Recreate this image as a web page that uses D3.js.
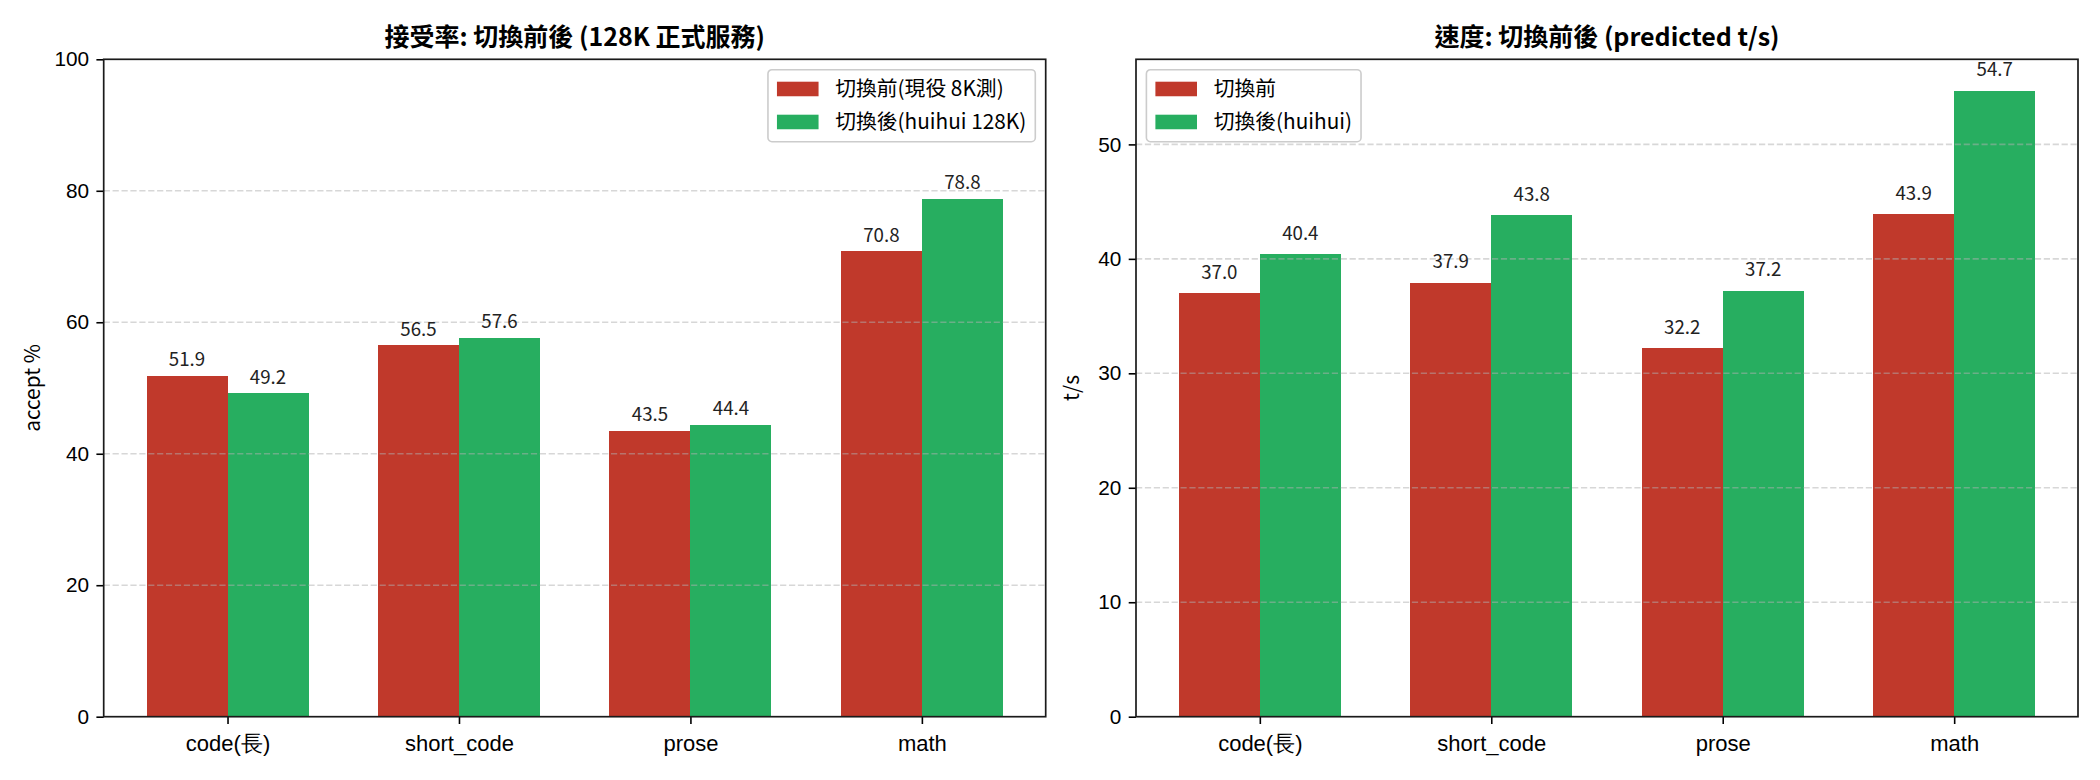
<!DOCTYPE html>
<html>
<head>
<meta charset="utf-8">
<script src="https://cdn.jsdelivr.net/npm/d3@7"></script>
<style>
  body { margin: 0; background: white; }
  svg { font-family: "Noto Sans CJK TC", "Noto Sans", sans-serif; }
  .title { font-size: 25px; font-weight: bold; }
  .tick text { font-size: 20.8px; fill: black; }
  .xaxis .tick text { font-size: 22px; }
  .valor { font-size: 18.7px; fill: #222; }
  .label { font-size: 20.8px; }
  .leyenda text { font-size: 20.8px; }
  .barra { shape-rendering: crispEdges; }
</style>
</head>
<body>
<svg id="plot"></svg>
<script>
const categorias = ["code(長)", "short_code", "prose", "math"];

// aceptación (%)
const aceptAntes = [51.9, 56.5, 43.5, 70.8];
const aceptDespues = [49.2, 57.6, 44.4, 78.8];

// velocidad (t/s)
const velAntes = [37.0, 37.9, 32.2, 43.9];
const velDespues = [40.4, 43.8, 37.2, 54.7];

const yTicksAcept = [0, 20, 40, 60, 80, 100];
const yTicksVel = [0, 10, 20, 30, 40, 50];

const rojo = "#c0392b";
const verde = "#27ae60";

const width = 2100;
const height = 780;
const panelW = 942;
const panelH = 657.4;
const margenArriba = 59.3;
const lefts = [103.7, 1136];
const anchoBarra = 0.35;

const plot = d3.select("#plot")
  .attr("width", width)
  .attr("height", height);

render(0, {
  titulo: "接受率: 切換前後 (128K 正式服務)",
  ylabel: "accept %",
  antes: aceptAntes,
  despues: aceptDespues,
  ymax: 100,
  ticks: yTicksAcept,
  nombres: ["切換前(現役 8K測)", "切換後(huihui 128K)"],
  leyendaDerecha: true
});

render(1, {
  titulo: "速度: 切換前後 (predicted t/s)",
  ylabel: "t/s",
  antes: velAntes,
  despues: velDespues,
  ymax: d3.max(velAntes.concat(velDespues)) * 1.05,
  ticks: yTicksVel,
  nombres: ["切換前", "切換後(huihui)"],
  leyendaDerecha: false
});

function render(i, cfg) {
  const x0 = lefts[i];
  const g = plot.append("g").attr("transform", "translate(" + x0 + "," + margenArriba + ")");

  // margen de matplotlib: 5% del rango de datos
  const lo = -anchoBarra, hi = categorias.length - 1 + anchoBarra;
  const m = (hi - lo) * 0.05;
  const xScale = d3.scaleLinear().domain([lo - m, hi + m]).range([0, panelW]);
  const yScale = d3.scaleLinear().domain([0, cfg.ymax]).range([panelH, 0]);

  const series = [
    {valores: cfg.antes, color: rojo, desp: -anchoBarra / 2},
    {valores: cfg.despues, color: verde, desp: anchoBarra / 2}
  ];

  series.forEach((s) => {
    g.selectAll(null)
      .data(s.valores)
      .enter()
      .append("rect")
        .attr("class", "barra")
        .attr("x", (d, k) => xScale(k + s.desp - anchoBarra / 2))
        .attr("width", (d, k) => xScale(k + s.desp + anchoBarra / 2) - xScale(k + s.desp - anchoBarra / 2))
        .attr("y", (d) => yScale(d))
        .attr("height", (d) => panelH - yScale(d))
        .attr("fill", s.color);
  });

  // grilla (encima de las barras, como en matplotlib)
  g.selectAll("line.grid")
    .data(cfg.ticks.filter((t) => t > 0 && t < cfg.ymax))
    .enter()
    .append("line")
      .attr("class", "grid")
      .attr("x1", 0)
      .attr("x2", panelW)
      .attr("y1", (d) => yScale(d))
      .attr("y2", (d) => yScale(d))
      .attr("stroke", "#b0b0b0")
      .attr("stroke-opacity", 0.5)
      .attr("stroke-width", 1.6)
      .attr("stroke-dasharray", "6.2,2.7");

  // etiquetas de valores
  series.forEach((s) => {
    g.selectAll(null)
      .data(s.valores)
      .enter()
      .append("text")
        .attr("class", "valor")
        .attr("x", (d, k) => xScale(k + s.desp))
        .attr("y", (d) => yScale(d + 1) - 3)
        .attr("text-anchor", "middle")
        .text((d) => d.toFixed(1));
  });

  // ejes
  const ejeX = g.append("g")
    .attr("class", "xaxis")
    .attr("transform", "translate(0," + panelH + ")")
    .call(d3.axisBottom(xScale)
      .tickValues(d3.range(categorias.length))
      .tickFormat((d) => categorias[d])
      .tickSize(7.3)
      .tickPadding(7.3)
      .tickSizeOuter(0));
  ejeX.select(".domain").remove();
  ejeX.selectAll(".tick line").attr("stroke", "black").attr("stroke-width", 1.6);
  ejeX.selectAll(".tick text").attr("dy", "0.9em");

  const ejeY = g.append("g")
    .call(d3.axisLeft(yScale)
      .tickValues(cfg.ticks)
      .tickSize(7.3)
      .tickPadding(7.3)
      .tickSizeOuter(0));
  ejeY.select(".domain").remove();
  ejeY.selectAll(".tick line").attr("stroke", "black").attr("stroke-width", 1.6);

  // marco
  g.append("rect")
    .attr("width", panelW)
    .attr("height", panelH)
    .attr("fill", "none")
    .attr("stroke", "#1a1a1a")
    .attr("stroke-width", 1.7);

  // y label
  g.append("text")
    .attr("class", "label")
    .attr("transform", "rotate(-90)")
    .attr("x", -panelH / 2)
    .attr("y", i === 0 ? 40 - x0 : 1079 - x0)
    .attr("text-anchor", "middle")
    .text(cfg.ylabel);

  // título
  g.append("text")
    .attr("class", "title")
    .attr("x", panelW / 2)
    .attr("y", -13)
    .attr("text-anchor", "middle")
    .text(cfg.titulo);

  leyenda(g, cfg);
}

function leyenda(g, cfg) {
  const fs = 20.8;
  const ley = g.append("g").attr("class", "leyenda");
  const caja = ley.append("rect")
    .attr("fill", "white")
    .attr("fill-opacity", 0.8)
    .attr("stroke", "#cccccc")
    .attr("stroke-width", 1.6)
    .attr("rx", 4);

  let anchoTexto = 0;
  [rojo, verde].forEach((c, k) => {
    const cy = 19 + k * 33;
    ley.append("rect")
      .attr("x", 9)
      .attr("y", cy - 7)
      .attr("width", 2 * fs)
      .attr("height", 0.7 * fs)
      .attr("fill", c);
    const t = ley.append("text")
      .attr("x", 9 + 2 * fs + 0.8 * fs)
      .attr("y", cy + 7)
      .text(cfg.nombres[k]);
    anchoTexto = Math.max(anchoTexto, t.node().getComputedTextLength());
  });

  const w = 9 + 2.8 * fs + anchoTexto + 9;
  caja.attr("width", w).attr("height", 72);

  const lx = cfg.leyendaDerecha ? panelW - 10.4 - w : 10.4;
  ley.attr("transform", "translate(" + lx + "," + 10.4 + ")");
}
</script>
</body>
</html>
